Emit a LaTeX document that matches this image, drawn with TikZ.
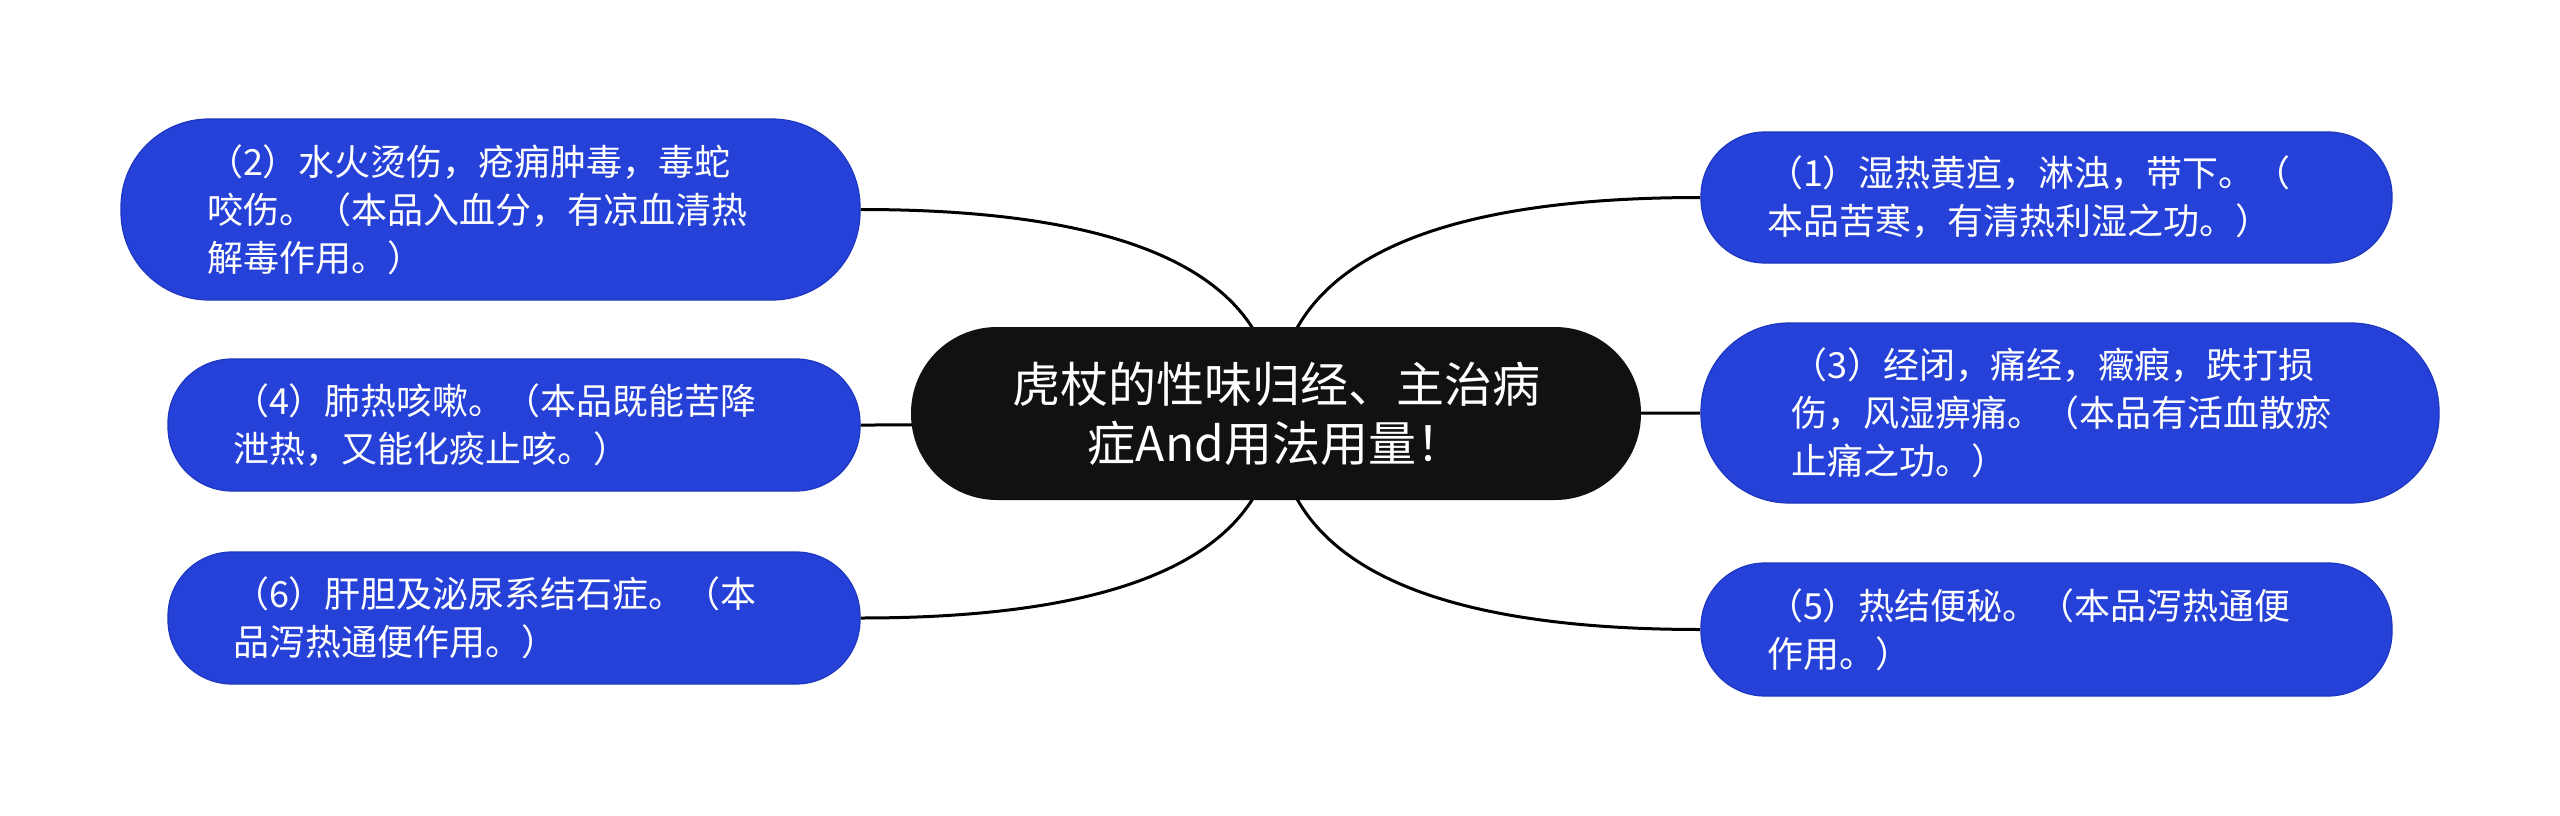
\documentclass[tikz,border=0pt]{standalone}
\usepackage{fontspec}
\newfontfamily\cjk{Noto Sans CJK SC}
\usetikzlibrary{calc}
\definecolor{topicblue}{HTML}{2541D8}
\definecolor{topicedge}{HTML}{1E37C0}
\definecolor{centerfill}{HTML}{111111}
\pgfdeclarelayer{bg}
\pgfsetlayers{bg,main}
\begin{document}
\begin{tikzpicture}[x=1pt,y=-1pt,
  centertopic/.style={shape=rectangle, fill=centerfill, text=white, rounded corners=86pt,
    minimum width=730pt, minimum height=173pt, inner sep=0pt, align=center,
    font=\cjk\fontsize{48}{59}\selectfont},
  subtopic/.style={shape=rectangle, fill=topicblue, draw=topicedge, line width=1.2pt,
    text=white, align=left, inner ysep=0pt, font=\cjk\fontsize{36}{48}\selectfont},
  link/.style={draw=black, line width=3pt}
]
\useasboundingbox (0,0) rectangle (2560,816);

\node[centertopic] (c) at (1276,413.5) {虎杖的性味归经、主治病\\症And用法用量！};

\node[subtopic, minimum height=181pt, text width=567pt, inner xsep=86pt, rounded corners=88pt]
  (n2) at (490.5,209.5) {（2）水火烫伤，疮痈肿毒，毒蛇\\咬伤。（本品入血分，有凉血清热\\解毒作用。）};
\node[subtopic, minimum height=132pt, text width=562pt, inner xsep=65pt, rounded corners=64pt]
  (n4) at (514,425) {（4）肺热咳嗽。（本品既能苦降\\泄热，又能化痰止咳。）};
\node[subtopic, minimum height=132pt, text width=562pt, inner xsep=65pt, rounded corners=64pt]
  (n6) at (514,618) {（6）肝胆及泌尿系结石症。（本\\品泻热通便作用。）};
\node[subtopic, minimum height=131pt, text width=559pt, inner xsep=66pt, rounded corners=64pt]
  (n1) at (2046.5,197.5) {（1）湿热黄疸，淋浊，带下。（\\本品苦寒，有清热利湿之功。）};
\node[subtopic, minimum height=180pt, text width=558pt, inner xsep=90pt, rounded corners=88pt]
  (n3) at (2070,413) {（3）经闭，痛经，癥瘕，跌打损\\伤，风湿痹痛。（本品有活血散瘀\\止痛之功。）};
\node[subtopic, minimum height=133pt, text width=559pt, inner xsep=66pt, rounded corners=64pt]
  (n5) at (2046.5,629.5) {（5）热结便秘。（本品泻热通便\\作用。）};

\coordinate (k1) at (c.center |- n1.west);
\coordinate (k2) at (c.center |- n2.east);
\coordinate (k3) at (c.center |- n3.west);
\coordinate (k4) at (c.center |- n4.east);
\coordinate (k5) at (c.center |- n5.west);
\coordinate (k6) at (c.center |- n6.east);

\begin{pgfonlayer}{bg}
\fill[white] (0,0) rectangle (2560,816);
\draw[link] (c.center) .. controls ($(c.center)!0.6667!(k1)$) and ($(n1.west)!0.6667!(k1)$) .. (n1.west);
\draw[link] (c.center) .. controls ($(c.center)!0.6667!(k2)$) and ($(n2.east)!0.6667!(k2)$) .. (n2.east);
\draw[link] (c.center) .. controls ($(c.center)!0.6667!(k3)$) and ($(n3.west)!0.6667!(k3)$) .. (n3.west);
\draw[link] (c.center) .. controls ($(c.center)!0.6667!(k4)$) and ($(n4.east)!0.6667!(k4)$) .. (n4.east);
\draw[link] (c.center) .. controls ($(c.center)!0.6667!(k5)$) and ($(n5.west)!0.6667!(k5)$) .. (n5.west);
\draw[link] (c.center) .. controls ($(c.center)!0.6667!(k6)$) and ($(n6.east)!0.6667!(k6)$) .. (n6.east);
\end{pgfonlayer}
\end{tikzpicture}
\end{document}
